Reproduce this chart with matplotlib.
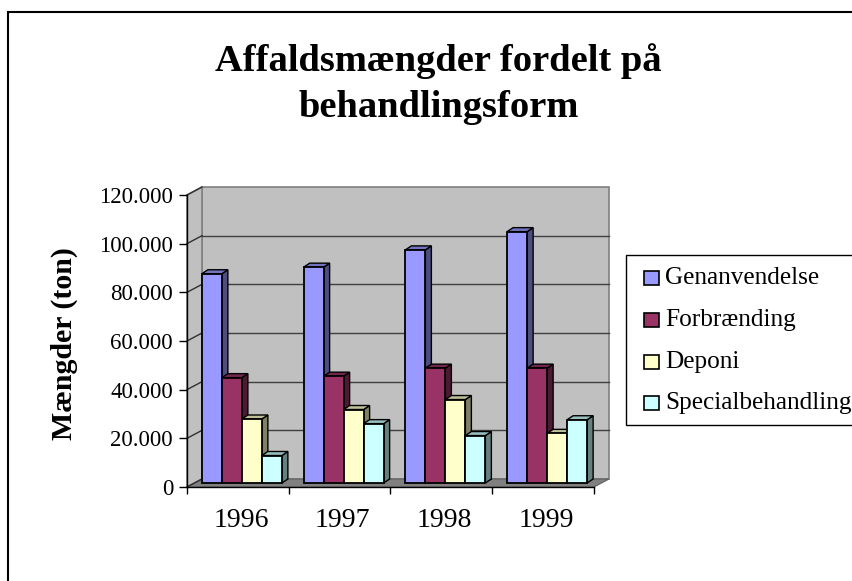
import matplotlib
matplotlib.use("Agg")
import matplotlib.pyplot as plt
from matplotlib.patches import Rectangle, Polygon

plt.rcParams['font.family'] = ['Liberation Serif', 'DejaVu Serif']

# ---- data ----
years = ["1996", "1997", "1998", "1999"]
series_names = ["Genanvendelse", "Forbrænding", "Deponi", "Specialbehandling"]
genanvendelse = [86000, 88700, 95800, 103300]
forbraending = [43300, 43900, 47200, 47200]
deponi = [26300, 30200, 34300, 20400]
special = [11300, 24400, 19500, 26000]
series_values = [genanvendelse, forbraending, deponi, special]
y_ticks = [0, 20000, 40000, 60000, 80000, 100000, 120000]

front_colors = ["#9999FF", "#993366", "#FFFFCC", "#CCFFFF"]
side_colors = ["#4D4D80", "#4D1A33", "#808066", "#668080"]
top_colors = ["#7373C0", "#73264D", "#BFBF99", "#99BFBF"]

W, H = 853, 581
fig = plt.figure(figsize=(W / 100, H / 100), dpi=100)
fig.patch.set_facecolor("white")


def fx(px):
    return px / W


def fy(py):
    return 1 - py / H


# front axis box in pixels
L, R, B, T = 187, 594, 487, 195
ax = fig.add_axes([fx(L), fy(B), (R - L) / W, (B - T) / H])
ax.set_xlim(0, 4)
ax.set_ylim(0, 120000)
ax.patch.set_visible(False)

ppx = (R - L) / 4.0          # pixels per x unit
ppy = (B - T) / 120000.0     # pixels per y unit


def dxu(px):
    return px / ppx


def dyu(px):
    return px / ppy


# depth of the plot box
DX, DY = dxu(15), dyu(8)
ymax = 120000

# back wall
ax.add_patch(Polygon([(DX, DY), (4 + DX, DY), (4 + DX, ymax + DY), (DX, ymax + DY)],
                     closed=True, facecolor="#C0C0C0", edgecolor="#808080", lw=1.2,
                     zorder=0, clip_on=False))
# left wall
ax.add_patch(Polygon([(0, 0), (DX, DY), (DX, ymax + DY), (0, ymax)],
                     closed=True, facecolor="#C0C0C0", edgecolor="#808080", lw=1.2,
                     zorder=0, clip_on=False))
# floor
ax.add_patch(Polygon([(0, 0), (4, 0), (4 + DX, DY), (DX, DY)],
                     closed=True, facecolor="#808080", edgecolor="#606060", lw=0.8,
                     zorder=0.5, clip_on=False))
# gridlines
for v in y_ticks[1:-1]:
    ax.plot([DX, 4 + DX], [v + DY, v + DY], color="#404040", lw=1.0, zorder=0.6,
            clip_on=False)
for v in y_ticks:
    ax.plot([0, DX], [v, v + DY], color="#303030", lw=1.0, zorder=0.6, clip_on=False)

# bars
n = len(series_values)
bw = dxu(20)
gap_left = (1 - n * bw) / 2
BOX, BOY = dxu(4), dyu(4)      # bar placement offset (mid-depth)
SDX, SDY = dxu(6), dyu(4)      # bar depth
z = 2
for i in range(len(years)):
    for j in range(n):
        v = series_values[j][i]
        x0 = i + gap_left + j * bw + BOX
        x1 = x0 + bw
        b = BOY
        t = BOY + v
        ax.add_patch(Polygon([(x1, b), (x1 + SDX, b + SDY), (x1 + SDX, t + SDY), (x1, t)],
                             closed=True, facecolor=side_colors[j], edgecolor="black",
                             lw=1.0, zorder=z, clip_on=False))
        ax.add_patch(Polygon([(x0, t), (x0 + SDX, t + SDY), (x1 + SDX, t + SDY), (x1, t)],
                             closed=True, facecolor=top_colors[j], edgecolor="black",
                             lw=1.0, zorder=z, clip_on=False))
        ax.bar(x0, v, width=bw, bottom=b, align="edge", color=front_colors[j],
               edgecolor="black", linewidth=1.3, zorder=z + 0.5, clip_on=False)
        z += 1

# axes styling
for s in ["top", "right"]:
    ax.spines[s].set_visible(False)
for s in ["left", "bottom"]:
    ax.spines[s].set_color("black")
    ax.spines[s].set_linewidth(1.0)
    ax.spines[s].set_zorder(1)

ax.set_yticks(y_ticks)
ax.set_yticklabels([f"{v:,}".replace(",", ".") for v in y_ticks])
ax.tick_params(axis="y", direction="out", length=6, width=1, labelsize=16.5, pad=4)

ax.set_xticks([0, 1, 2, 3, 4])
ax.set_xticklabels([])
ax.tick_params(axis="x", which="major", direction="out", length=5, width=1)
ax.set_xticks([0.53, 1.53, 2.53, 3.53], minor=True)
ax.set_xticklabels(years, minor=True)
ax.tick_params(axis="x", which="minor", length=0, labelsize=20, pad=15)

# titles
fig.text(fx(438.5), fy(71), "Affaldsmængder fordelt på", ha="center", va="baseline",
         fontsize=27.7, fontweight="bold")
fig.text(fx(438.5), fy(117), "behandlingsform", ha="center", va="baseline",
         fontsize=27.7, fontweight="bold")
fig.text(fx(64), fy(343.5), "Mængder (ton)", rotation=90, ha="center", va="center",
         fontsize=21.5, fontweight="bold")

# legend (manual, frame runs past the right edge as in the reference)
fig.add_artist(Rectangle((fx(626), fy(425)), (880 - 626) / W, (425 - 255) / H,
                         transform=fig.transFigure, facecolor="white",
                         edgecolor="black", lw=1.0))
leg_y = [278, 320, 362, 403]
for j, name in enumerate(series_names):
    fig.add_artist(Rectangle((fx(644), fy(leg_y[j] + 7)), 15 / W, 14 / H,
                             transform=fig.transFigure, facecolor=front_colors[j],
                             edgecolor="black", lw=1.2))
    fig.text(fx(665), fy(leg_y[j]), name, ha="left", va="center", fontsize=18.2)

# chart area border (right/bottom lie outside the picture)
fig.add_artist(Rectangle((fx(8), fy(600)), (900 - 8) / W, (600 - 12) / H,
                         transform=fig.transFigure, facecolor="none",
                         edgecolor="black", lw=1.5))

fig.savefig("out.png", dpi=100)
